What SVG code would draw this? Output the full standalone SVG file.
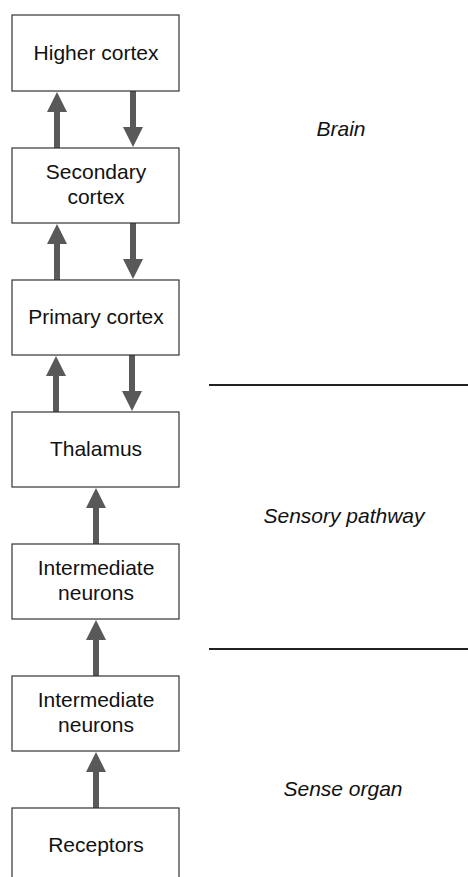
<svg xmlns="http://www.w3.org/2000/svg" xmlns:xlink="http://www.w3.org/1999/xlink" width="468" height="877" viewBox="0 0 468 877">
  <style>
    .box { fill: #ffffff; stroke: #333333; stroke-width: 1.2; }
    .lbl { font-family: "Liberation Sans", Arial, sans-serif; font-size: 21px; fill: #111111; text-anchor: middle; }
    .zone { font-family: "Liberation Sans", Arial, sans-serif; font-size: 21px; font-style: italic; fill: #111111; text-anchor: middle; }
    .divider { stroke: #222222; stroke-width: 2; }
    .arrow { fill: #595959; }
  </style>
  <defs>
    <!-- upward block arrow, tip at the origin, 56 long -->
    <path id="arrowUp" class="arrow" d="M0,0 L10,20 L3,20 L3,56 L-3,56 L-3,20 L-10,20 Z"/>
  </defs>

  <rect width="468" height="877" fill="#ffffff"/>

  <!-- zone dividers -->
  <line class="divider" x1="209" y1="385" x2="468" y2="385"/>
  <line class="divider" x1="209" y1="649" x2="468" y2="649"/>

  <!-- zone labels -->
  <text class="zone" x="341" y="136">Brain</text>
  <text class="zone" x="344" y="523">Sensory pathway</text>
  <text class="zone" x="343" y="796">Sense organ</text>

  <g id="connectors">
    <!-- higher cortex / secondary cortex -->
    <use xlink:href="#arrowUp" transform="translate(57,92)"/>
    <use xlink:href="#arrowUp" transform="translate(133,147) rotate(180)"/>
    <!-- secondary cortex / primary cortex -->
    <use xlink:href="#arrowUp" transform="translate(57,224)"/>
    <use xlink:href="#arrowUp" transform="translate(133,279) rotate(180)"/>
    <!-- primary cortex / thalamus -->
    <use xlink:href="#arrowUp" transform="translate(56,356)"/>
    <use xlink:href="#arrowUp" transform="translate(132,411) rotate(180)"/>
    <!-- ascending pathway -->
    <use xlink:href="#arrowUp" transform="translate(96,488)"/>
    <use xlink:href="#arrowUp" transform="translate(96,620)"/>
    <use xlink:href="#arrowUp" transform="translate(96,752)"/>
  </g>

  <g id="higher-cortex">
    <rect class="box" x="12" y="15" width="167" height="76"/>
    <text class="lbl" x="96" y="60">Higher cortex</text>
  </g>
  <g id="secondary-cortex">
    <rect class="box" x="12" y="148" width="167" height="75"/>
    <text class="lbl" x="96" y="179">Secondary</text>
    <text class="lbl" x="96" y="204">cortex</text>
  </g>
  <g id="primary-cortex">
    <rect class="box" x="12" y="280" width="167" height="75"/>
    <text class="lbl" x="96" y="324">Primary cortex</text>
  </g>
  <g id="thalamus">
    <rect class="box" x="12" y="412" width="167" height="75"/>
    <text class="lbl" x="96" y="456">Thalamus</text>
  </g>
  <g id="intermediate-neurons-upper">
    <rect class="box" x="12" y="544" width="167" height="75"/>
    <text class="lbl" x="96" y="575">Intermediate</text>
    <text class="lbl" x="96" y="600">neurons</text>
  </g>
  <g id="intermediate-neurons-lower">
    <rect class="box" x="12" y="676" width="167" height="75"/>
    <text class="lbl" x="96" y="707">Intermediate</text>
    <text class="lbl" x="96" y="732">neurons</text>
  </g>
  <g id="receptors">
    <rect class="box" x="12" y="808" width="167" height="80"/>
    <text class="lbl" x="96" y="852">Receptors</text>
  </g>
</svg>
